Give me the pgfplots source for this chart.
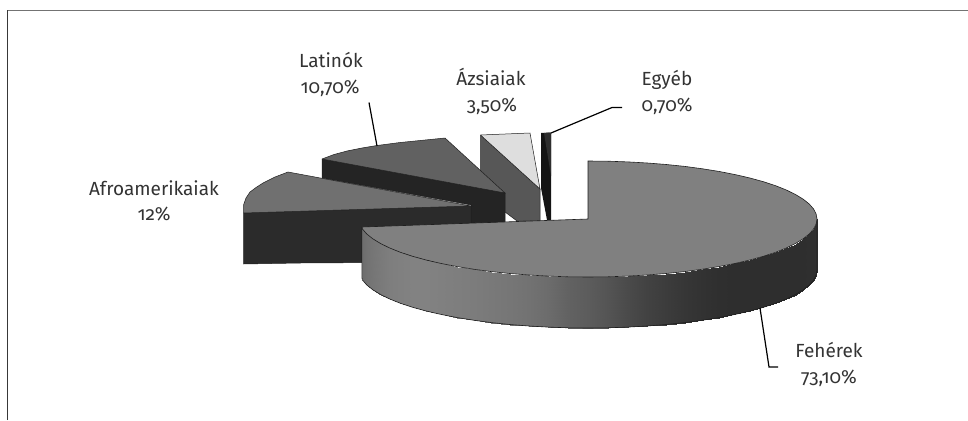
\documentclass[border=0pt]{standalone}
\usepackage{pgfplots}
\pgfplotsset{compat=1.18}
\usepackage{fontspec}
\setmainfont[Numbers=OldStyle]{Fira Sans}
\definecolor{labeltext}{gray}{0.2}
\definecolor{edge}{gray}{0.12}
\tikzset{lab/.style={font=\fontsize{19}{22}\selectfont, text=labeltext, anchor=base, inner sep=0pt}}

\begin{document}
\begin{tikzpicture}
% axis units are reference pixels, y pointing down
\begin{axis}[
  width=968pt, height=420pt, scale only axis,
  xmin=0, xmax=968, ymin=0, ymax=420,
  y dir=reverse,
  hide axis,
  colormap/blackwhite,
  point meta min=0, point meta max=255
]

% keeps the whole page in the bounding box
\path (axis cs:0,0) rectangle (axis cs:968,420);

% frame: top and left only
\addplot[draw=black!55, line width=1.5pt] coordinates {(7.5,10.7) (968,10.7)};
\addplot[draw=black!78, line width=1.4pt] coordinates {(7.5,420) (7.5,10.5)};

% Egyeb
\addplot[fill=black!92, draw=none] coordinates {(541,133) (551,132.5) (551,220) (547,220) (541,188) (541,133)};
\addplot[fill=black!82, draw=none] coordinates {(544,133) (551,132.5) (551,176) (544,133)};

% Azsiaiak side and top
\addplot[fill=black!66, draw=edge, line width=0.5pt] coordinates {(480.5,135) (540,189) (540,221) (517,221) (505,212) (480.5,190) (480.5,135)};
\addplot[fill=black!13, draw=edge, line width=0.5pt] coordinates {(480.5,135) (530,133) (540,189) (480.5,135)};

% Latinok front and top
\addplot[fill=black!86, draw=edge, line width=0.5pt] coordinates {(322,159) (505,193) (505,225) (471,225) (471,205) (322,178) (322,159)};
\addplot[fill=black!62, draw=edge, line width=0.5pt] coordinates {(322,159) (334,154.5) (347,151) (362,148) (377,145.5) (400,142.5) (425,140) (445,138) (505,193) (322,159)};

% Afroamerikaiak front and top
\addplot[fill=black!83, draw=edge, line width=0.5pt] coordinates {(243.5,213) (471,206) (471,262) (300,263) (243.5,264) (243.5,213)};
\addplot[fill=black!56, draw=edge, line width=0.5pt] coordinates {(243.5,213) (243.5,205) (246,198) (250,192) (256,187.5) (263,183) (275,177) (288,172) (471,206) (243.5,213)};

% Feherek side, top row then bottom row
\addplot[surf, shader=interp, mesh/rows=2, point meta=\thisrow{c}] table {
x y c
817.0 219.0 48
816.1 224.1 48
813.5 229.1 47
809.2 234.0 47
803.2 238.8 46
795.5 243.5 46
786.3 248.0 46
775.6 252.3 46
763.4 256.3 46
749.9 260.0 46
735.2 263.4 46
719.4 266.5 47
702.5 269.2 50
684.8 271.6 54
666.3 273.5 60
647.3 275.0 66
627.8 276.1 74
608.0 276.8 84
588.0 277.0 92
568.0 276.8 98
548.2 276.1 108
528.7 275.0 114
509.7 273.5 118
491.2 271.6 121
473.5 269.2 124
456.6 266.5 126
440.8 263.4 128
426.1 260.0 130
412.6 256.3 130
400.4 252.3 128
389.7 248.0 126
380.5 243.5 122
372.8 238.8 118
366.8 234.0 114
362.5 229.1 110
361.9 227.0 108
817.0 270.0 48
816.1 275.1 48
813.5 280.1 47
809.2 285.0 47
803.2 289.8 46
795.5 294.5 46
786.3 299.0 46
775.6 303.3 46
763.4 307.3 46
749.9 311.0 46
735.2 314.4 46
719.4 317.5 47
702.5 320.2 50
684.8 322.6 54
666.3 324.5 60
647.3 326.0 66
627.8 327.1 74
608.0 327.8 84
588.0 328.0 92
568.0 327.8 98
548.2 327.1 108
528.7 326.0 114
509.7 324.5 118
491.2 322.6 121
473.5 320.2 124
456.6 317.5 126
440.8 314.4 128
426.1 311.0 130
412.6 307.3 130
400.4 303.3 128
389.7 299.0 126
380.5 294.5 122
372.8 289.8 118
366.8 285.0 114
362.5 280.1 110
361.9 278.0 108
};

% Feherek outline of the side
\addplot[draw=edge, line width=0.6pt] coordinates {
(817,219) (817,270) (816.1,275.1) (813.5,280.1) (809.2,285.0) (803.2,289.8) (795.5,294.5) (786.3,299.0) (775.6,303.3) (763.4,307.3) (749.9,311.0) (735.2,314.4) (719.4,317.5) (702.5,320.2) (684.8,322.6) (666.3,324.5) (647.3,326.0) (627.8,327.1) (608.0,327.8) (588.0,328.0) (568.0,327.8) (548.2,327.1) (528.7,326.0) (509.7,324.5) (491.2,322.6) (473.5,320.2) (456.6,317.5) (440.8,314.4) (426.1,311.0) (412.6,307.3) (400.4,303.3) (389.7,299.0) (380.5,294.5) (372.8,289.8) (366.8,285.0) (362.5,280.1) (361.9,278.0) (361.9,227)
};

% Feherek top face
\addplot[fill=black!50, draw=edge, line width=0.6pt] coordinates {
(588,219) (588,161) (608.0,161.2) (627.8,161.9) (647.3,163.0) (666.3,164.5) (684.8,166.4) (702.5,168.8) (719.4,171.5) (735.2,174.6) (749.9,178.0) (763.4,181.7) (775.6,185.7) (786.3,190.0) (795.5,194.5) (803.2,199.2) (809.2,204.0) (813.5,208.9) (816.1,213.9) (817.0,219.0)
(816.1,224.1) (813.5,229.1) (809.2,234.0) (803.2,238.8) (795.5,243.5) (786.3,248.0) (775.6,252.3) (763.4,256.3) (749.9,260.0) (735.2,263.4) (719.4,266.5) (702.5,269.2) (684.8,271.6) (666.3,273.5) (647.3,275.0) (627.8,276.1) (608.0,276.8) (588.0,277.0)
(568.0,276.8) (548.2,276.1) (528.7,275.0) (509.7,273.5) (491.2,271.6) (473.5,269.2) (456.6,266.5) (440.8,263.4) (426.1,260.0) (412.6,256.3) (400.4,252.3) (389.7,248.0) (380.5,243.5) (372.8,238.8) (366.8,234.0) (362.5,229.1) (361.9,227.0) (588,219)
};

% leader lines
\addplot[draw=black, line width=1.2pt] coordinates {(369,102.5) (377,146)};
\addplot[draw=black, line width=1.2pt] coordinates {(551,133) (612,107.5) (622,107.5)};
\addplot[draw=black, line width=1.2pt] coordinates {(760,308) (769,367) (778,367)};

% labels
\node[lab] at (axis cs:331,67.5) {Latinók};
\node[lab] at (axis cs:330,93) {10,70\%};
\node[lab] at (axis cs:491,85) {Ázsiaiak};
\node[lab] at (axis cs:492,111) {3,50\%};
\node[lab] at (axis cs:667,85) {Egyéb};
\node[lab] at (axis cs:667,111) {0,70\%};
\node[lab] at (axis cs:154,195) {Afroamerikaiak};
\node[lab] at (axis cs:154,220) {12\%};
\node[lab] at (axis cs:829,357) {Fehérek};
\node[lab] at (axis cs:829,383) {73,10\%};
\end{axis}
\end{tikzpicture}
\end{document}
